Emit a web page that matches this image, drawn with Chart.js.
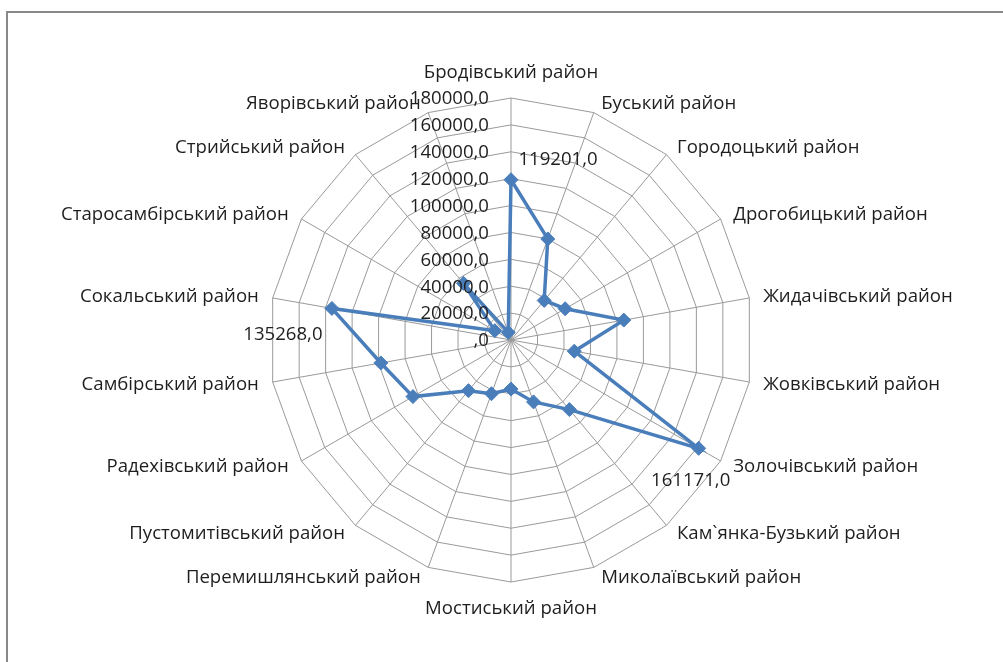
<!DOCTYPE html>
<html>
<head>
<meta charset="utf-8">
<script src="https://cdn.jsdelivr.net/npm/chart.js@4.4.1/dist/chart.umd.min.js"></script>
<style>
  html, body { margin: 0; padding: 0; background: #fff; }
  #wrap { width: 1003px; height: 662px; }
</style>
</head>
<body>
<div id="wrap"><canvas id="myChart" width="1003" height="662"></canvas></div>
<script>
const ctx = document.getElementById('myChart').getContext('2d');

// districts, clockwise from the top
const districts = [
    'Бродівський район', 'Буський район', 'Городоцький район', 'Дрогобицький район',
    'Жидачівський район', 'Жовківський район', 'Золочівський район', 'Кам`янка-Бузький район',
    'Миколаївський район', 'Мостиський район', 'Перемишлянський район', 'Пустомитівський район',
    'Радехівський район', 'Самбірський район', 'Сокальський район', 'Старосамбірський район',
    'Стрийський район', 'Яворівський район'
];

const volumes = [
    119201, 80000, 38400, 46500,
    85200, 47800, 161171, 67600,
    49000, 36500, 42500, 49200,
    84200, 98300, 135268, 13900,
    55000, 6000
];

// only these points carry a value label
const labelledPoints = [0, 6, 14];

const axisMax = 180000;
const axisStep = 20000;

const FONT = '18.6px "Open Sans"';
const TEXT = '#1e1e1e';
const BLUE = '#4a7ebb';

// "119201,0" / ",0"
const fmt = v => v.toFixed(1).replace(/^0/, '').replace('.', ',');

const framePlugin = {
    id: 'frame',
    beforeDraw(chart) {
        const c = chart.ctx;
        c.save();
        c.fillStyle = '#fff';
        c.fillRect(0, 0, chart.width, chart.height);
        c.strokeStyle = '#898989';
        c.lineWidth = 2;
        c.beginPath();
        c.moveTo(7, chart.height);
        c.lineTo(7, 12);
        c.lineTo(chart.width, 12);
        c.stroke();
        c.restore();
    }
};

const textPlugin = {
    id: 'texts',
    afterDatasetsDraw(chart) {
        const c = chart.ctx;
        const r = chart.scales.r;
        c.save();
        c.font = FONT;
        c.fillStyle = TEXT;

        // tick labels, left of the vertical axis
        c.textAlign = 'right';
        c.textBaseline = 'middle';
        r.ticks.forEach(t => {
            const d = r.getDistanceFromCenterForValue(t.value);
            c.fillText(fmt(t.value), r.xCenter - 22, r.yCenter - d + 1);
        });

        // category labels
        districts.forEach((name, i) => {
            const p = r.getPointPosition(i, r.drawingArea + 10);
            const deg = Math.round(i * 360 / districts.length);
            c.textBaseline = 'alphabetic';
            if (deg === 0) {
                c.textAlign = 'center';
                c.fillText(name, p.x, p.y - 10);
            } else if (deg === 180) {
                c.textAlign = 'center';
                c.fillText(name, p.x, p.y + 22);
            } else if (deg < 180) {
                c.textAlign = 'left';
                c.fillText(name, p.x + 4, p.y + 6);
            } else {
                c.textAlign = 'right';
                c.fillText(name, p.x - 4, p.y + 6);
            }
        });

        // value labels
        const offsets = { 0: [47, -20], 6: [-8, 32], 14: [-49, 26] };
        const pts = chart.getDatasetMeta(0).data;
        c.textAlign = 'center';
        c.textBaseline = 'middle';
        labelledPoints.forEach(i => {
            const o = offsets[i] || [0, -20];
            c.fillText(fmt(volumes[i]), pts[i].x + o[0], pts[i].y + o[1]);
        });
        c.restore();
    }
};

const myChart = new Chart(ctx, {
    type: 'radar',
    data: {
        labels: districts,
        datasets: [{
            label: 'Обсяг',
            data: volumes,
            borderColor: BLUE,
            borderWidth: 3.5,
            fill: false,
            tension: 0,
            pointStyle: 'rectRot',
            pointRadius: 7,
            pointBackgroundColor: BLUE,
            pointBorderColor: BLUE,
            pointBorderWidth: 1
        }]
    },
    options: {
        responsive: false,
        animation: false,
        layout: {
            padding: { left: 269, right: 250, top: 98, bottom: 80 }
        },
        plugins: {
            legend: { display: false },
            tooltip: { enabled: false }
        },
        scales: {
            r: {
                min: 0,
                max: axisMax,
                ticks: { stepSize: axisStep, display: false },
                grid: { color: '#9a9a9a', lineWidth: 1 },
                angleLines: { color: '#9a9a9a', lineWidth: 1 },
                pointLabels: { display: false }
            }
        }
    },
    plugins: [framePlugin, textPlugin]
});
</script>
</body>
</html>
